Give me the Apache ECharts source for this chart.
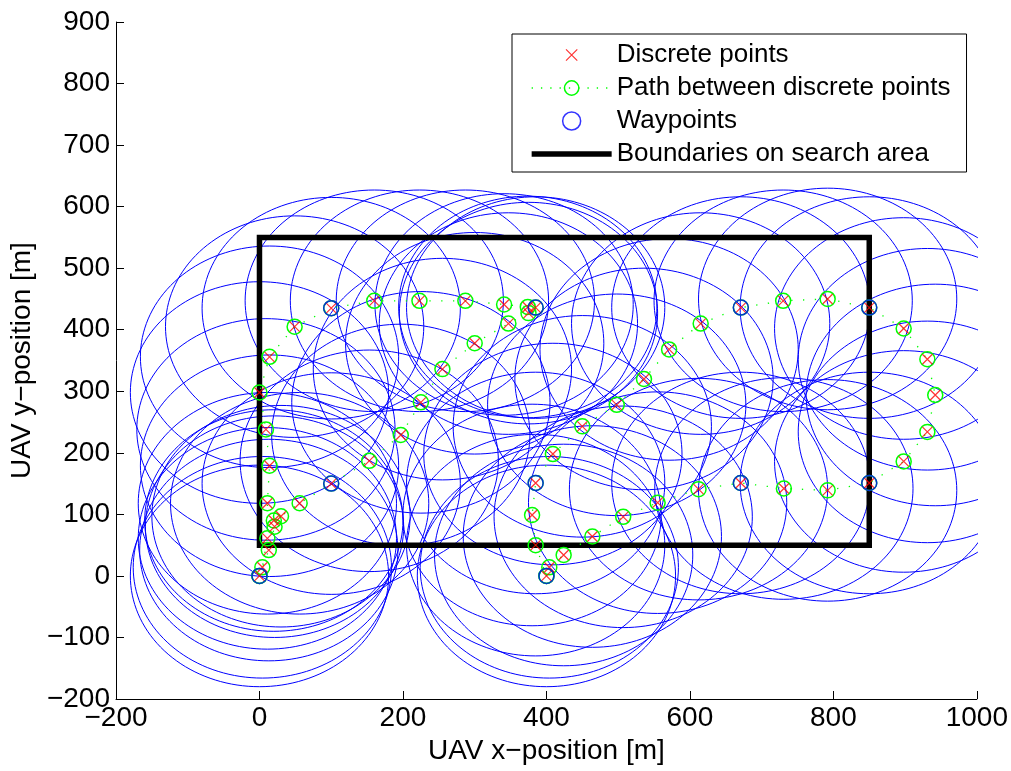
<!DOCTYPE html>
<html>
<head>
<meta charset="utf-8">
<script src="https://cdn.jsdelivr.net/npm/echarts@6/dist/echarts.min.js"></script>
<style>
html,body{margin:0;padding:0;background:#fff;}
#chart{width:1011px;height:771px;}
</style>
</head>
<body>
<div id="chart"></div>
<script>
// ---- data ----
// Loop A (left): discrete points along the path, in flight order (closes back at start)
const pathAX = [0, 4, 11, 11, 14, 9, 0, 14, 49, 100, 160, 223, 287, 341, 374, 385, 375, 347, 300, 255, 225, 197, 153, 100, 56, 30, 20, 21, 13, 0];
const pathAY = [0, 14, 61, 118, 179, 238, 298, 356, 405, 435, 447, 447, 447, 441, 437, 436, 427, 410, 378, 336, 282, 229, 187, 150, 118, 97, 90, 80, 42, 0];
// Loop B (middle/right)
const pathBX = [400, 404, 424, 464, 507, 555, 612, 671, 731, 792, 850, 898, 931, 942, 931, 898, 850, 792, 730, 671, 615, 571, 536, 498, 450, 409, 385, 380, 385, 400];
const pathBY = [0, 14, 34, 64, 96, 119, 141, 151, 142, 139, 151, 186, 234, 294, 352, 402, 436, 450, 447, 436, 410, 368, 320, 278, 243, 198, 151, 99, 50, 0];
// Waypoints
const wpX = [0, 100, 100, 385, 385, 400, 671, 671, 850, 850];
const wpY = [0, 150, 435, 436, 151, 0, 151, 436, 436, 151];
// Search-area boundary
const bndX = [0, 850, 850, 0, 0];
const bndY = [50, 50, 550, 550, 50];
// Sensor footprint radius [m]
const sensorRadius = 180;
// Axis ranges
const xMin = -200, xMax = 1000, xStep = 200;
const yMin = -200, yMax = 900, yStep = 100;

// ---- build ----
const FONT = '"Liberation Sans", Arial, Helvetica, sans-serif';
const zip = (xs, ys) => xs.map((x, i) => [x, ys[i]]);
function circle(cx, cy, r) {
  const pts = [];
  const n = 144;
  for (let k = 0; k <= n; k++) {
    const t = 2 * Math.PI * k / n;
    pts.push([cx + r * Math.cos(t), cy + r * Math.sin(t)]);
  }
  return pts;
}
const ptsA = zip(pathAX, pathAY);
const ptsB = zip(pathBX, pathBY);
const discrete = ptsA.slice(0, -1).concat(ptsB.slice(0, -1));
const waypoints = zip(wpX, wpY);
const X_SYMBOL = 'path://M-3,-3M13,13M0,0L10,10M10,0L0,10';
const minus = v => String(v).replace('-', '\u2212');

const series = [];
discrete.forEach(p => {
  series.push({
    type: 'line', name: 'footprint', data: circle(p[0], p[1], sensorRadius),
    symbol: 'none', showSymbol: false, silent: true, z: 1,
    lineStyle: { color: '#0000ff', width: 1 }, animation: false
  });
});
series.push({
  type: 'line', name: 'Boundaries on search area', data: zip(bndX, bndY),
  symbol: 'none', silent: true, z: 2,
  itemStyle: { color: '#000' },
  lineStyle: { color: '#000', width: 5.5, cap: 'square', join: 'miter' }
});
[ptsA, ptsB].forEach(pts => {
  series.push({
    type: 'line', name: 'Path between discrete points', data: pts,
    symbol: 'circle', symbolSize: 15, showSymbol: true, showAllSymbol: true, silent: true, z: 3,
    itemStyle: { color: 'transparent', borderColor: '#00ff00', borderWidth: 1.5 },
    lineStyle: { color: '#00ff00', width: 1.3, type: [1.3, 10.5] }
  });
});
series.push({
  type: 'scatter', name: 'Discrete points', data: discrete,
  symbol: X_SYMBOL, symbolSize: 16, silent: true, z: 4,
  itemStyle: { color: '#ff0000', borderColor: '#ff0000', borderWidth: 1.2 }
});
series.push({
  type: 'scatter', name: 'Waypoints', data: waypoints,
  symbol: 'circle', symbolSize: 15, silent: true, z: 5,
  itemStyle: { color: 'transparent', borderColor: '#0000ff', borderWidth: 1.5 }
});

const chart = echarts.init(document.getElementById('chart'), null, { renderer: 'canvas' });
chart.setOption({
  animation: false,
  backgroundColor: '#ffffff',
  textStyle: { fontFamily: FONT },
  grid: { left: 116, right: 33, top: 22, bottom: 72, containLabel: false },
  xAxis: {
    type: 'value', min: xMin, max: xMax, interval: xStep,
    name: 'UAV x\u2212position [m]', nameLocation: 'middle', nameGap: 32,
    nameTextStyle: { fontSize: 28, color: '#000', fontFamily: FONT },
    axisLine: { show: true, onZero: false, lineStyle: { color: '#000', width: 1 } },
    axisTick: { show: true, inside: true, length: 8, lineStyle: { color: '#000', width: 1 } },
    axisLabel: { fontSize: 28, color: '#000', margin: 5, fontFamily: FONT, formatter: minus, showMinLabel: true, showMaxLabel: true },
    splitLine: { show: false }
  },
  yAxis: {
    type: 'value', min: yMin, max: yMax, interval: yStep,
    name: 'UAV y\u2212position [m]', nameLocation: 'middle', nameGap: 80,
    nameTextStyle: { fontSize: 28, color: '#000', fontFamily: FONT },
    axisLine: { show: true, onZero: false, lineStyle: { color: '#000', width: 1 } },
    axisTick: { show: true, inside: true, length: 8, lineStyle: { color: '#000', width: 1 } },
    axisLabel: { fontSize: 28, color: '#000', margin: 6, fontFamily: FONT, formatter: minus, showMinLabel: true, showMaxLabel: true },
    splitLine: { show: false }
  },
  legend: {
    orient: 'vertical', left: 512, top: 34,
    padding: [8, 16, 5, 19], itemGap: 7, itemWidth: 80, itemHeight: 18,
    backgroundColor: '#ffffff', borderColor: '#000', borderWidth: 1, borderRadius: 0,
    selectedMode: false,
    textStyle: { fontSize: 26, color: '#000', fontFamily: FONT, lineHeight: 26 },
    data: [
      { name: 'Discrete points', itemStyle: { color: '#ff0000', borderColor: '#ff0000', borderWidth: 1.2 } },
      { name: 'Path between discrete points',
        itemStyle: { color: 'transparent', borderColor: '#00ff00', borderWidth: 1.5 },
        lineStyle: { color: '#00ff00', width: 1.3, type: [1.3, 8] } },
      { name: 'Waypoints', itemStyle: { color: 'transparent', borderColor: '#0000ff', borderWidth: 1.5 } },
      { name: 'Boundaries on search area', icon: 'path://M0,0H80V5.5H0Z',
        itemStyle: { color: '#000', borderWidth: 0 } }
    ]
  },
  series: series
});
</script>
</body>
</html>
